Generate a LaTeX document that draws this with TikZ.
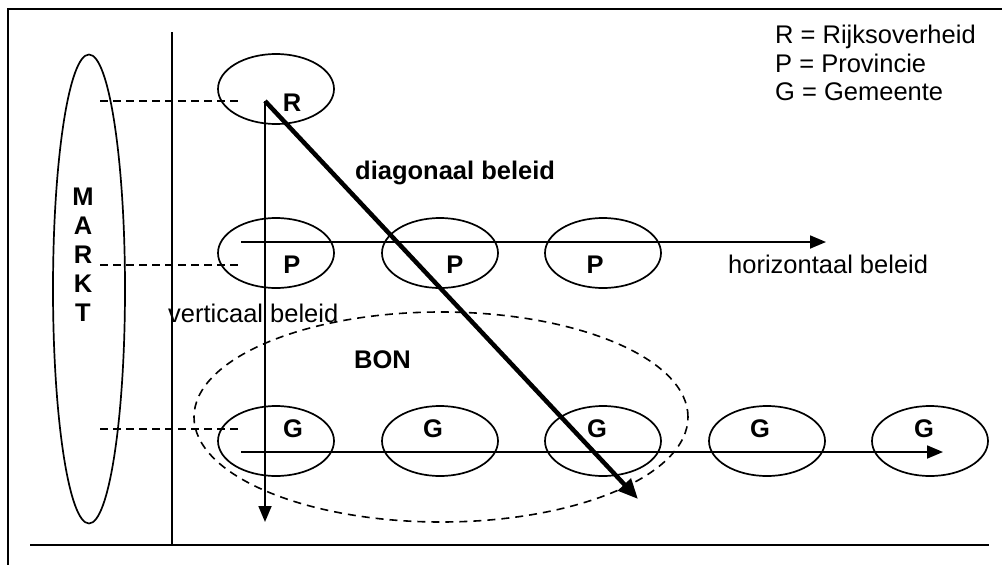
\documentclass[tikz,border=0pt]{standalone}
\usepackage{fontspec}
\setmainfont{Liberation Sans}
\usetikzlibrary{shapes.geometric,arrows.meta}
\begin{document}
\begin{tikzpicture}[x=1pt,y=-1pt,
  every node/.style={font=\fontsize{25.5}{29}\selectfont, inner sep=0pt},
  thinline/.style={line width=1.8pt},
  frameline/.style={line width=2pt},
  org/.style={ellipse, draw, line width=1.7pt, minimum width=116pt, minimum height=70pt},
  letter/.style={anchor=base, font=\fontsize{25.5}{29}\selectfont\bfseries},
  lbl/.style={anchor=base west},
  guide/.style={line width=1.7pt, dash pattern=on 8pt off 5pt},
  arr/.style={line width=1.8pt, -{Triangle[length=16pt,width=13pt]}},
  thickarr/.style={line width=4.5pt, -{Triangle[length=20pt,width=17pt]}}
]
\useasboundingbox (0,0) rectangle (1002,565);

% frame
\coordinate (fTL) at (8,9);
\coordinate (fTR) at (1002,9);
\coordinate (fBL) at (8,565);
\coordinate (bL) at (30,545);
\coordinate (bR) at (989,545);
\coordinate (vT) at (172,32);
\coordinate (vB) at (172,545);
\draw[frameline] (fTR) -- (fTL) -- (fBL);
\draw[frameline] (bL) -- (bR);
\draw[thinline] (vT) -- (vB);

% MARKT
\node[ellipse, draw, line width=1.7pt, minimum width=72pt, minimum height=469pt] (markt) at (89,289) {};
\node[letter] (m1) at (83,205) {M};
\node[letter] (m2) at (83,234) {A};
\node[letter] (m3) at (83,263) {R};
\node[letter] (m4) at (83,292) {K};
\node[letter] (m5) at (83,321) {T};

% BON dashed ellipse
\node[ellipse, draw, line width=1.6pt, dash pattern=on 8pt off 6pt, minimum width=494pt, minimum height=210pt] (bon) at (441,417) {};
\node[lbl, font=\fontsize{25.5}{29}\selectfont\bfseries] (bonl) at (354,368) {BON};

% organisations
\node[org] (R) at (276,89) {};
\node[org] (P1) at (276,253) {};
\node[org] (P2) at (440,253) {};
\node[org] (P3) at (603,253) {};
\node[org] (G1) at (276,441) {};
\node[org] (G2) at (440,441) {};
\node[org] (G3) at (603,441) {};
\node[org] (G4) at (767,441) {};
\node[org] (G5) at (930,441) {};

\node[letter] (Rl) at (292,111) {R};
\node[letter] (P1l) at (292,273) {P};
\node[letter] (P2l) at (455,273) {P};
\node[letter] (P3l) at (595,273) {P};
\node[letter] (G1l) at (293,437) {G};
\node[letter] (G2l) at (433,437) {G};
\node[letter] (G3l) at (597,437) {G};
\node[letter] (G4l) at (760,437) {G};
\node[letter] (G5l) at (924,437) {G};

% dashed guides
\coordinate (dR0) at (100,101);  \coordinate (dR1) at (242,101);
\coordinate (dP0) at (100,265);  \coordinate (dP1) at (242,265);
\coordinate (dG0) at (100,429);  \coordinate (dG1) at (242,429);
\draw[guide] (dR0) -- (dR1);
\draw[guide] (dP0) -- (dP1);
\draw[guide] (dG0) -- (dG1);

% arrows
\coordinate (o) at (265,101);
\coordinate (vEnd) at (265,522);
\coordinate (hP0) at (241,242);
\coordinate (hP1) at (826,242);
\coordinate (hG0) at (241,452);
\coordinate (hG1) at (943,452);
\coordinate (dEnd) at (638,499);
\draw[arr] (o) -- (vEnd);
\draw[arr] (hP0) -- (hP1);
\draw[arr] (hG0) -- (hG1);
\draw[thickarr] (o) -- (dEnd);

% labels
\node[lbl] (vl) at (168,322) {verticaal beleid};
\node[lbl, font=\fontsize{25.5}{29}\selectfont\bfseries] (dl) at (355,179) {diagonaal beleid};
\node[lbl] (hl) at (728,273) {horizontaal beleid};

% legend
\node[lbl] (leg1) at (775,43) {R = Rijksoverheid};
\node[lbl] (leg2) at (775,72) {P = Provincie};
\node[lbl] (leg3) at (775,100) {G = Gemeente};
\end{tikzpicture}
\end{document}
